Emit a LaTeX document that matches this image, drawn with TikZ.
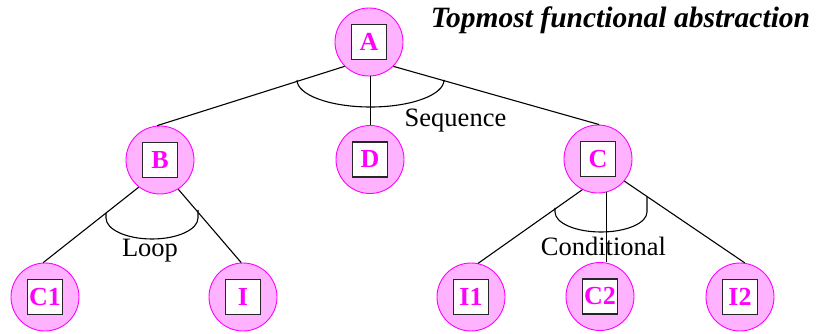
\documentclass[tikz,border=0pt]{standalone}
\usepackage{fontspec}
\setmainfont{Liberation Serif}
\newfontfamily\titlefont{Liberation Serif Bold Italic}
\newfontfamily\boxfont{Liberation Serif Bold}
\definecolor{ballfill}{RGB}{255,178,255}
\definecolor{mag}{RGB}{255,0,255}
\begin{document}
\begin{tikzpicture}[x=1pt,y=-1pt,
  ball/.style={circle,draw=mag,fill=ballfill,line width=0.9pt,minimum size=68pt,inner sep=0pt},
  box/.style={rectangle,draw=black!85,fill=white,line width=1.2pt,minimum size=35pt,inner sep=0pt,
     text=mag,font=\fontsize{26}{26}\boxfont},
  conn/.style={line width=1.1pt,black},
  lab/.style={anchor=base,inner sep=0pt,font=\fontsize{26.5}{26.5}\selectfont}]
\useasboundingbox (0,0) rectangle (823,334);
% nodes
\node[ball] (A) at (369,42) {};  \node[box] (Ab) at (A) {A};
\node[ball] (B) at (160,160) {}; \node[box] (Bb) at (B) {B};
\node[ball] (D) at (370,159.5) {}; \node[box] (Db) at (D) {D};
\node[ball] (C) at (598,159) {}; \node[box] (Cb) at (C) {C};
\node[ball] (C1) at (45,297) {}; \node[box] (C1b) at (C1) {C1};
\node[ball] (I) at (243,297) {}; \node[box] (Ib) at (I) {I};
\node[ball] (I1) at (471,297) {}; \node[box] (I1b) at (I1) {I1};
\node[ball] (C2) at (600,296.5) {}; \node[box] (C2b) at (C2) {C2};
\node[ball] (I2) at (740,297) {}; \node[box] (I2b) at (I2) {I2};
% connectors
\draw[conn] (A.225) -- (B.95);
\draw[conn] (A.-88) -- (A.-88 |- D.north);
\draw[conn] (A.-45) -- (C.88);
\draw[conn] (B.232) -- (C1.93);
\draw[conn] (B.-58) -- (I.93);
\draw[conn] (C.243) -- (I1.78);
\draw[conn] (C.-75) -- (C.-75 |- C2.north);
\draw[conn] (C.-40) -- (I2.82);
% arcs
\draw[conn] (297,80) arc[start angle=180,end angle=0,x radius=73.5,y radius=27] -- (444,82);
\draw[conn] (106,213) -- (106,218) arc[start angle=180,end angle=0,x radius=46,y radius=21] -- (198,210);
\draw[conn] (555,208) -- (555,212) arc[start angle=180,end angle=0,x radius=46,y radius=20] -- (647,197);
% labels
\node[lab] (seq) at (455.5,127) {Sequence};
\node[lab] (loop) at (150,257) {Loop};
\node[lab] (cond) at (603.5,256) {Conditional};
\node[anchor=base,inner sep=0pt,font=\fontsize{29.5}{29.5}\titlefont] (title) at (620.5,28) {Topmost functional abstraction};
\end{tikzpicture}
\end{document}
